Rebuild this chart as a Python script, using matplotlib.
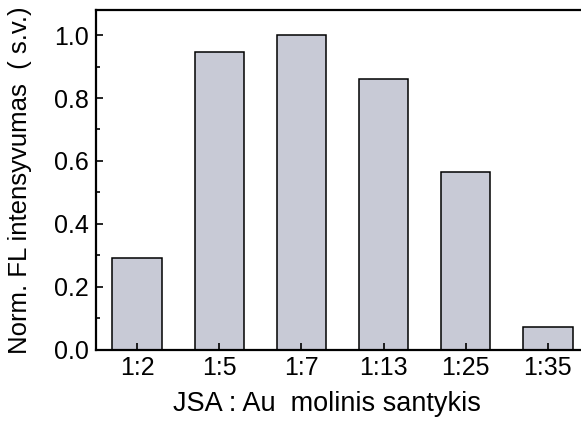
import matplotlib
matplotlib.use("Agg")
import matplotlib.pyplot as plt
from matplotlib.ticker import MultipleLocator, FormatStrFormatter

plt.rcParams['font.family'] = ['Liberation Sans', 'DejaVu Sans']

categories = ["1:2", "1:5", "1:7", "1:13", "1:25", "1:35"]
values = [0.29, 0.945, 1.0, 0.86, 0.564, 0.07]

fig = plt.figure(figsize=(5.81, 4.21), dpi=100)
ax = fig.add_axes([96/581, (421-349.5)/421, (589-96)/581, (349.5-10)/421])

x = list(range(len(categories)))
ax.bar(x, values, width=0.6, color="#c8cad6", edgecolor="black", linewidth=1.1)

ax.set_xlim(-0.5, 5.5)
ax.set_ylim(0, 1.08)
ax.set_xticks(x)
ax.set_xticklabels(categories)
ax.yaxis.set_major_locator(MultipleLocator(0.2))
ax.yaxis.set_minor_locator(MultipleLocator(0.1))
ax.yaxis.set_major_formatter(FormatStrFormatter('%.1f'))

ax.tick_params(axis='both', which='major', direction='in', length=5, width=1.2, labelsize=18, pad=5)
ax.tick_params(axis='y', which='minor', direction='in', length=3, width=1.2)

for s in ['left', 'bottom', 'top', 'right']:
    ax.spines[s].set_linewidth(1.6)

ax.set_xlabel("JSA : Au  molinis santykis", fontsize=19.5)
ax.set_ylabel("Norm. FL intensyvumas  ( s.v.)", fontsize=18.5)
ax.xaxis.set_label_coords(0.469, -0.123)
ax.yaxis.set_label_coords(-0.13, 0.5)

fig.savefig("out.png", dpi=100)
